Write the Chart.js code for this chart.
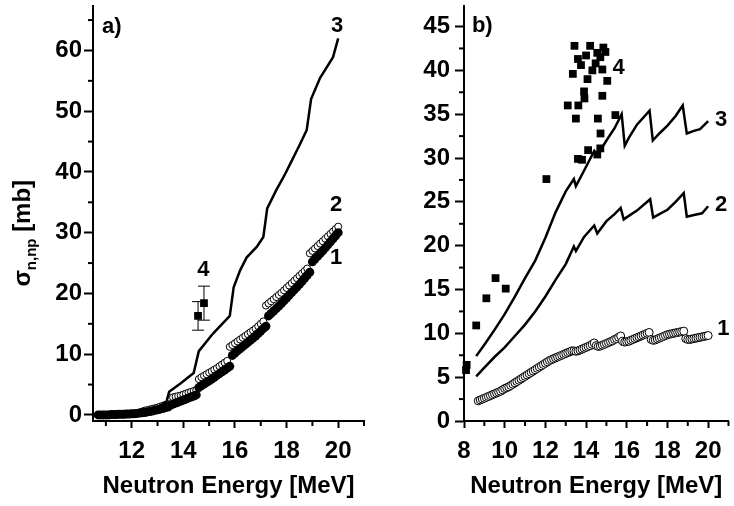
<!DOCTYPE html>
<html lang="en">
<head>
<meta charset="UTF-8">
<title>Neutron Energy</title>
<script src="https://cdn.jsdelivr.net/npm/chart.js"></script>
<style>
  body { margin: 0; background: #fff; }
  canvas { position: absolute; top: 0; }
</style>
</head>
<body>
<canvas id="chartA" width="370" height="506" style="left:0"></canvas>
<canvas id="chartB" width="364" height="506" style="left:370px"></canvas>
<script>
// ---- panel a) data ----
// curve 1 (filled circles)
var filledA = [[10.7,0],[10.8,0],[10.9,0],[11.0,0],[11.1,0],[11.2,0.05],[11.3,0.05],[11.4,0.05],[11.5,0.1],[11.6,0.1],[11.7,0.1],[11.8,0.15],[11.9,0.15],[12.0,0.2],[12.1,0.2],[12.2,0.25],[12.3,0.3],[12.4,0.35],[12.5,0.4],[12.6,0.5],[12.7,0.55],[12.8,0.65],[12.9,0.75],[13.0,0.85],[13.1,0.95],[13.2,1.05],[13.3,1.2],[13.4,1.3],
  [13.5,1.6],[13.6,1.8],[13.7,1.95],[13.8,2.1],[13.9,2.3],[14.0,2.45],[14.1,2.6],[14.2,2.8],[14.3,2.95],[14.4,3.1],[14.5,3.3],
  [14.6,4.5],[14.7,4.8],[14.8,5.1],[14.9,5.35],[15.0,5.6],[15.1,5.9],[15.2,6.2],[15.3,6.5],[15.4,6.8],[15.5,7.1],[15.6,7.4],[15.7,7.7],[15.8,8.0],
  [15.9,9.8],[16.0,10.2],[16.1,10.55],[16.2,10.9],[16.3,11.25],[16.4,11.6],[16.5,11.95],[16.6,12.3],[16.7,12.65],[16.8,13.0],[16.9,13.4],[17.0,13.8],[17.1,14.2],[17.2,14.6],
  [17.3,16.3],[17.4,16.7],[17.5,17.1],[17.6,17.5],[17.7,17.9],[17.8,18.35],[17.9,18.8],[18.0,19.25],[18.1,19.7],[18.2,20.15],[18.3,20.6],[18.4,21.05],[18.5,21.5],[18.6,22.0],[18.7,22.5],[18.8,23.0],[18.9,23.5],
  [19.0,25.2],[19.1,25.65],[19.2,26.1],[19.3,26.55],[19.4,27.0],[19.5,27.5],[19.6,28.0],[19.7,28.5],[19.8,29.0],[19.9,29.5],[20.0,30.0]];
// curve 2 (open circles)
var openA = [[10.7,0],[10.9,0],[11.1,0],[11.3,0.05],[11.5,0.1],[11.7,0.1],[11.9,0.15],[12.1,0.2],[12.3,0.35],[12.4,0.55],[12.5,0.7],[12.6,0.8],[12.7,0.9],[12.8,1.0],[12.9,1.1],[13.0,1.2],[13.1,1.35],[13.2,1.5],[13.3,1.65],[13.4,1.8],
  [13.5,2.8],[13.6,2.9],[13.7,3.0],[13.8,3.1],[13.9,3.2],[14.0,3.35],[14.1,3.5],[14.2,3.65],[14.3,3.8],[14.4,3.95],[14.5,4.1],
  [14.6,5.9],[14.7,6.2],[14.8,6.45],[14.9,6.7],[15.0,6.95],[15.1,7.2],[15.2,7.45],[15.3,7.7],[15.4,8.0],[15.5,8.3],[15.6,8.6],[15.7,8.9],
  [15.8,11.2],[15.9,11.5],[16.0,11.8],[16.1,12.1],[16.2,12.4],[16.3,12.7],[16.4,13.0],[16.5,13.3],[16.6,13.6],[16.7,13.9],[16.8,14.2],[16.9,14.6],[17.0,15.0],[17.1,15.4],
  [17.2,18.0],[17.3,18.35],[17.4,18.7],[17.5,19.05],[17.6,19.4],[17.7,19.75],[17.8,20.1],[17.9,20.5],[18.0,20.9],[18.1,21.3],[18.2,21.7],[18.3,22.1],[18.4,22.5],[18.5,22.9],[18.6,23.3],[18.7,23.7],[18.8,24.1],
  [18.9,26.6],[19.0,27.0],[19.1,27.4],[19.2,27.8],[19.3,28.2],[19.4,28.6],[19.5,29.0],[19.6,29.4],[19.7,29.8],[19.8,30.2],[19.9,30.6],[20.0,31.0]];
// curve 3 (line)
var lineA3 = [[10.7,0],[11.0,0.05],[11.5,0.1],[12.0,0.2],[12.5,0.5],[13.0,1.2],[13.35,2.2],[13.45,3.8],[13.9,5.2],[14.4,6.9],[14.6,10.5],[15.15,13.4],[15.8,16.3],[15.95,21.0],[16.2,23.8],[16.45,25.9],[16.85,27.7],[17.1,29.3],[17.25,34.0],[17.6,37.0],[17.9,39.3],[18.15,41.4],[18.5,44.4],[18.78,46.9],[18.95,52.0],[19.3,55.5],[19.8,58.9],[20.0,62.0]];
// 4: experimental points with errors
var expA = [[14.57,16.3],[14.8,18.4]];
var expAErr = [2.35, 2.8];

var xMajorA = [12, 14, 16, 18, 20];
var xMinorA = [11, 13, 15, 17, 19, 21];
var yMajorA = [0, 10, 20, 30, 40, 50, 60];
var yMinorA = [5, 15, 25, 35, 45, 55, 65];

// ---- panel b) data ----
// curve 1 (open circles)
var openB1 = [[8.7,2.3],[8.8,2.4],[8.9,2.5],[9.0,2.6],[9.1,2.7],[9.2,2.8],[9.3,2.9],[9.4,3.0],[9.5,3.1],[9.6,3.2],[9.7,3.3],[9.8,3.4],[9.9,3.55],[10.0,3.7],[10.1,3.8],[10.2,3.9],[10.3,4.05],[10.4,4.2],[10.5,4.35],[10.6,4.5],[10.7,4.65],[10.8,4.8],[10.9,4.95],[11.0,5.1],[11.1,5.25],[11.2,5.4],[11.3,5.55],[11.4,5.7],[11.5,5.85],[11.6,6.0],[11.7,6.15],[11.8,6.3],[11.9,6.45],[12.0,6.6],[12.1,6.75],[12.2,6.9],[12.3,7.0],[12.4,7.1],[12.5,7.2],[12.6,7.3],[12.7,7.4],[12.8,7.5],[12.9,7.6],[13.0,7.7],[13.1,7.8],[13.2,7.9],[13.3,8.0],[13.4,8.0],[13.5,7.95],[13.6,8.0],[13.7,8.1],[13.8,8.2],[13.9,8.3],[14.0,8.4],[14.1,8.5],[14.2,8.6],[14.3,8.75],[14.4,8.9],[14.5,8.6],[14.6,8.5],[14.7,8.55],[14.8,8.65],[14.9,8.75],[15.0,8.85],[15.1,8.95],[15.2,9.05],[15.3,9.15],[15.4,9.3],[15.5,9.4],[15.6,9.55],[15.7,9.7],[15.8,9.1],[15.9,9.0],[16.0,9.05],[16.1,9.1],[16.2,9.2],[16.3,9.3],[16.4,9.4],[16.5,9.5],[16.6,9.6],[16.7,9.7],[16.8,9.8],[16.9,9.9],[17.0,10.0],[17.1,10.1],[17.2,9.3],[17.3,9.2],[17.4,9.25],[17.5,9.35],[17.6,9.45],[17.7,9.55],[17.8,9.65],[17.9,9.75],[18.0,9.85],[18.1,9.9],[18.2,9.95],[18.3,10.0],[18.4,10.05],[18.5,10.1],[18.6,10.15],[18.7,10.2],[18.8,10.25],[18.9,9.4],[19.0,9.3],[19.1,9.3],[19.2,9.35],[19.3,9.4],[19.4,9.45],[19.5,9.5],[19.6,9.55],[19.7,9.6],[19.8,9.65],[19.9,9.7],[20.0,9.75]];
// curve 2 (line)
var lineB2 = [[8.6,5.1],[9.0,6.1],[9.5,7.3],[10.0,8.4],[10.5,9.7],[11.0,11.0],[11.5,12.5],[12.0,14.2],[12.5,16.1],[13.0,17.9],[13.4,19.9],[13.5,19.4],[13.9,21.0],[14.4,22.3],[14.55,21.4],[15.0,22.8],[15.4,23.6],[15.7,24.3],[15.85,23.0],[16.1,23.4],[16.5,24.0],[17.15,25.3],[17.3,23.2],[17.6,23.6],[18.0,24.1],[18.4,25.0],[18.8,26.0],[18.95,23.3],[19.3,23.5],[19.7,23.7],[20.0,24.5]];
// curve 3 (line)
var lineB3 = [[8.6,7.4],[9.0,8.7],[9.5,10.4],[10.0,12.2],[10.5,14.2],[11.0,16.3],[11.5,18.3],[12.0,20.9],[12.5,23.8],[13.0,26.2],[13.4,27.6],[13.5,26.8],[14.0,29.0],[14.4,30.8],[14.55,30.3],[15.0,32.0],[15.4,33.4],[15.75,35.0],[15.9,31.4],[16.1,32.3],[16.5,33.8],[17.12,35.4],[17.28,32.0],[17.6,32.8],[18.0,33.7],[18.4,34.8],[18.75,36.0],[18.95,32.8],[19.3,33.1],[19.6,33.3],[20.0,34.2]];
// 4: experimental points
var expB = [[8.1,5.8],[8.13,6.4],[8.6,10.9],[9.1,14.0],[9.55,16.3],[10.05,15.1],[12.05,27.6],[13.1,36.0],[13.35,39.6],[13.43,42.8],[13.5,34.5],[13.6,41.3],[13.62,36.0],[13.6,29.9],[13.75,40.6],[13.8,29.8],[13.9,37.6],[13.92,36.8],[14.0,41.7],[14.07,39.0],[14.1,30.9],[14.2,42.8],[14.31,40.0],[14.47,40.8],[14.55,42.0],[14.55,30.4],[14.58,34.5],[14.7,41.5],[14.71,32.8],[14.7,31.1],[14.8,40.1],[14.8,37.1],[14.85,42.6],[14.95,42.1],[15.04,38.8],[15.44,34.9]];

var xMajorB = [8, 10, 12, 14, 16, 18, 20];
var xMinorB = [9, 11, 13, 15, 17, 19, 21];
var yMajorB = [0, 5, 10, 15, 20, 25, 30, 35, 40, 45];
var yMinorB = [2.5, 7.5, 12.5, 17.5, 22.5, 27.5, 32.5, 37.5, 42.5];

// curve labels, in data units
var labelsA = [
  { text: 'a)', x: 10.85, y: 63.9, align: 'left' },
  { text: '3', x: 19.96, y: 64.0, align: 'center' },
  { text: '2', x: 19.92, y: 34.6, align: 'center' },
  { text: '1', x: 19.92, y: 25.8, align: 'center' },
  { text: '4', x: 14.78, y: 23.9, align: 'center' }
];
var labelsB = [
  { text: 'b)', x: 8.39, y: 45.1, align: 'left' },
  { text: '4', x: 15.3, y: 40.25, align: 'left' },
  { text: '3', x: 20.34, y: 34.3, align: 'left' },
  { text: '2', x: 20.34, y: 24.6, align: 'left' },
  { text: '1', x: 20.45, y: 10.45, align: 'left' }
];

var FAMILY = "'Liberation Sans', Arial, sans-serif";
var tickFont = { family: FAMILY, size: 24, weight: 'bold' };

function pts(arr) {
  return arr.map(function (p) { return { x: p[0], y: p[1] }; });
}

// minor ticks, error bars, labels and y title
var decor = {
  id: 'decor',
  afterDraw: function (chart, args, o) {
    var ctx = chart.ctx, xs = chart.scales.x, ys = chart.scales.y, area = chart.chartArea;
    ctx.save();
    ctx.strokeStyle = '#000';
    ctx.lineWidth = 2;
    o.xMinor.forEach(function (v) {
      var px = xs.getPixelForValue(v);
      ctx.beginPath(); ctx.moveTo(px, area.bottom); ctx.lineTo(px, area.bottom + 5); ctx.stroke();
    });
    o.yMinor.forEach(function (v) {
      var py = ys.getPixelForValue(v);
      ctx.beginPath(); ctx.moveTo(area.left, py); ctx.lineTo(area.left - 5, py); ctx.stroke();
    });
    if (o.err) {
      ctx.lineWidth = 1;
      o.err.points.forEach(function (p, i) {
        var px = xs.getPixelForValue(p[0]);
        var y1 = ys.getPixelForValue(p[1] - o.err.size[i]);
        var y2 = ys.getPixelForValue(p[1] + o.err.size[i]);
        ctx.beginPath();
        ctx.moveTo(px, y1); ctx.lineTo(px, y2);
        ctx.moveTo(px - 6, y1); ctx.lineTo(px + 6, y1);
        ctx.moveTo(px - 6, y2); ctx.lineTo(px + 6, y2);
        ctx.stroke();
      });
    }
    ctx.fillStyle = '#000';
    ctx.font = 'bold 22px ' + FAMILY;
    ctx.textBaseline = 'middle';
    o.labels.forEach(function (l) {
      ctx.textAlign = l.align;
      ctx.fillText(l.text, xs.getPixelForValue(l.x), ys.getPixelForValue(l.y));
    });
    if (o.yTitle) {
      var cy = (area.top + area.bottom) / 2 + 20;
      ctx.translate(30, cy);
      ctx.rotate(-Math.PI / 2);
      ctx.textAlign = 'left';
      ctx.textBaseline = 'alphabetic';
      var big = 'bold 24px ' + FAMILY, small = 'bold 15px ' + FAMILY;
      ctx.font = big; var w1 = ctx.measureText('\u03c3').width;
      ctx.font = small; var w2 = ctx.measureText('n,np').width;
      ctx.font = big; var w3 = ctx.measureText(' [mb]').width;
      var x0 = -(w1 + w2 + w3) / 2;
      ctx.fillText('\u03c3', x0, 0);
      ctx.font = small; ctx.fillText('n,np', x0 + w1, 6);
      ctx.font = big; ctx.fillText(' [mb]', x0 + w1 + w2, 0);
    }
    ctx.restore();
  }
};

function axisX(min, max, major) {
  return {
    type: 'linear', min: min, max: max,
    afterBuildTicks: function (s) { s.ticks = major.map(function (v) { return { value: v }; }); },
    afterFit: function (s) { s.height = 85; s.paddingLeft = 0; s.paddingRight = 0; },
    grid: { display: true, drawOnChartArea: false, drawTicks: true, tickLength: 7, tickWidth: 2, tickColor: '#000' },
    border: { display: true, color: '#000', width: 2 },
    ticks: { color: '#000', font: tickFont, padding: 9, maxRotation: 0, autoSkip: false },
    title: { display: true, text: 'Neutron Energy [MeV]', color: '#000', font: { family: FAMILY, size: 24, weight: 'bold', lineHeight: 1.2 }, padding: { top: 0, bottom: 5 } }
  };
}

function axisY(min, max, major, width, pad) {
  return {
    type: 'linear', min: min, max: max,
    afterBuildTicks: function (s) { s.ticks = major.map(function (v) { return { value: v }; }); },
    afterFit: function (s) { s.width = width; s.paddingTop = 0; s.paddingBottom = 0; },
    grid: { display: true, drawOnChartArea: false, drawTicks: true, tickLength: 9, tickWidth: 2, tickColor: '#000' },
    border: { display: true, color: '#000', width: 2 },
    ticks: { color: '#000', font: tickFont, padding: pad, autoSkip: false }
  };
}

var common = {
  responsive: false,
  animation: false,
  events: [],
  plugins: { legend: { display: false }, tooltip: { enabled: false } }
};

new Chart(document.getElementById('chartA'), {
  type: 'scatter',
  data: {
    datasets: [
      { data: pts(lineA3), showLine: true, borderColor: '#000', borderWidth: 2.5, pointRadius: 0, order: 0 },
      { data: pts(expA), pointStyle: 'rect', pointRadius: 5.5, backgroundColor: '#000', borderColor: '#000', borderWidth: 0, order: 0 },
      { data: pts(filledA), pointRadius: 4.5, backgroundColor: '#000', borderColor: '#000', borderWidth: 0, order: 1 },
      { data: pts(openA), pointRadius: 3.5, backgroundColor: '#fff', borderColor: '#000', borderWidth: 1, order: 2 }
    ]
  },
  options: Object.assign({}, common, {
    layout: { padding: { left: 0, right: 6, top: 5, bottom: 0 } },
    scales: { x: axisX(10.5, 21, xMajorA), y: axisY(-1, 67.4, yMajorA, 93, 2) },
    plugins: Object.assign({}, common.plugins, {
      decor: { xMinor: xMinorA, yMinor: yMinorA, labels: labelsA, err: { points: expA, size: expAErr }, yTitle: true }
    })
  }),
  plugins: [decor]
});

new Chart(document.getElementById('chartB'), {
  type: 'scatter',
  data: {
    datasets: [
      { data: pts(lineB3), showLine: true, borderColor: '#000', borderWidth: 2.5, pointRadius: 0, order: 1 },
      { data: pts(lineB2), showLine: true, borderColor: '#000', borderWidth: 2.5, pointRadius: 0, order: 1 },
      { data: pts(expB), pointStyle: 'rect', pointRadius: 5.5, backgroundColor: '#000', borderColor: '#000', borderWidth: 0, order: 0, clip: false },
      { data: pts(openB1), pointRadius: 4, backgroundColor: '#fff', borderColor: '#000', borderWidth: 1, order: 2 }
    ]
  },
  options: Object.assign({}, common, {
    layout: { padding: { left: 0, right: 0, top: 5, bottom: 0 } },
    scales: { x: axisX(8, 21, xMajorB), y: axisY(0, 47.4, yMajorB, 94, 5) },
    plugins: Object.assign({}, common.plugins, {
      decor: { xMinor: xMinorB, yMinor: yMinorB, labels: labelsB, yTitle: false }
    })
  }),
  plugins: [decor]
});
</script>
</body>
</html>
